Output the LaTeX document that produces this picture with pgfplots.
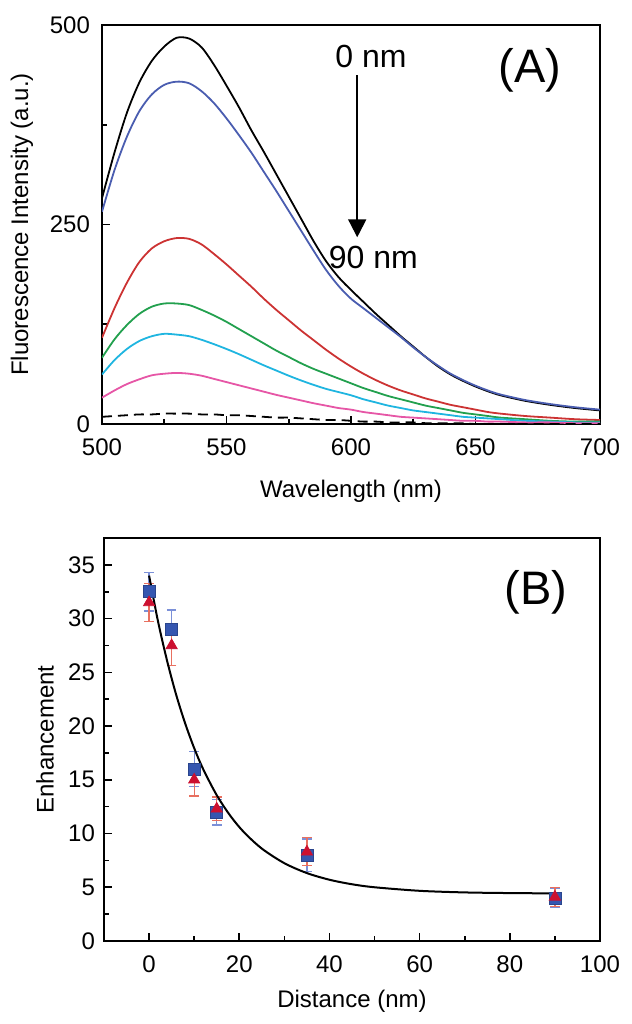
\documentclass[border=0pt]{standalone}
\usepackage{pgfplots}
\pgfplotsset{compat=1.18}
\usepackage{fontspec}
\setmainfont{Liberation Sans}
\usetikzlibrary{arrows.meta}

\definecolor{cblue}{HTML}{4A5DB0}
\definecolor{cred}{HTML}{CC3333}
\definecolor{cgreen}{HTML}{22A04E}
\definecolor{ccyan}{HTML}{1FB5E0}
\definecolor{cpink}{HTML}{E656A6}
\definecolor{sqblue}{HTML}{3556B0}
\definecolor{trired}{HTML}{CC1030}
\definecolor{errblue}{HTML}{7B90D8}
\definecolor{errred}{HTML}{E87060}

\pgfplotsset{
  panel/.style={
    scale only axis, anchor=south west,
    axis line style={line width=1pt},
    tick align=inside, tick pos=left,
    major tick length=4pt, minor tick length=2.5pt,
    every tick/.style={black, line width=0.8pt},
    ticklabel style={font=\fontsize{12}{14}\selectfont},
    xticklabel style={yshift=-4pt},
    label style={font=\fontsize{12}{14}\selectfont},
    /pgf/number format/assume math mode=true,
  }
}

% spectra (panel A)
\pgfplotstableread{
w k b r g c p d
500 283 266 108 83 62 33 9
505 340 318 145 106 80 42 10
510 390 360 177 124 94 50 11
515 428 392 203 138 104 56 12
520 455 413 220 147 110 61 12
525 473 425 229 151 113 63 13
530 484 429 233 151 112 64 13
535 483 427 232 149 110 63 13
540 472 417 225 143 105.5 60.5 12
545 450 402 213 136 100 56.5 12
550 424 383 200 128 94 52.5 11
555 397 362 186 119 87.5 48.5 11
560 368 340 172 110 80.5 44.5 10
565 341 316 157 101 73.5 40.5 9
570 313 292 143 92 67 36.5 8
575 285 267 130 84 60.5 33 8
580 257 242 117 76 54.5 29.5 7
585 229 217 105 69 49 26 6
590 204 193 93 63 44 23 5
595 184 173 82 57 40 20 5
600 168 157 72 51 36 18 4
605 153 145 63 45 31 15 3
610 138 133 55 40 27 13 3
615 124 121 48 35 23 11 2
620 110 109 42 31 20 9 2
625 97 96 37 27 17 8 2
630 84 84 32 23 15 7 1
635 72 73 28 20 13 6 1
640 62 63 24 17 11 5 1
645 54 55 21 14 9 4 1
650 47 48 18 12 8 4 0
655 41 42 15 10 7 3 0
660 36 37 13 8 6 3 0
670 29 30 10 6 4 2 0
680 24 25 8 4 3 2 0
690 20 21 6 3 2 1 0
700 17 18 5 3 2 1 0
}\spectra

% enhancement (panel B)
\pgfplotstableread{
x y e
0 32.5 1.8
5 29.0 1.8
10 16.0 1.6
15 12.0 1.2
35 8.0 1.5
90 4.0 0.9
}\squares
\pgfplotstableread{
x y e
0 31.5 1.8
5 27.5 1.9
10 15.0 1.5
15 12.3 1.1
35 8.3 1.3
90 4.1 0.9
}\triangles
\pgfplotstableread{
x y
0 34.0
2 29.7
4 26.06
6 22.92
8 20.25
10 17.95
12 15.99
15 13.57
18 11.66
21 10.14
25 8.60
30 7.24
35 6.32
40 5.70
45 5.28
50 5.00
60 4.67
70 4.52
80 4.46
90 4.43
}\fit

\begin{document}
\begin{tikzpicture}
\path[use as bounding box] (0,0) rectangle (316pt,512pt);

\begin{axis}[panel,
  at={(51pt,300pt)}, width=249pt, height=199.5pt,
  xmin=500, xmax=700, ymin=0, ymax=500,
  xtick={500,550,...,700}, ytick={0,250,500},
  minor x tick num=1, minor y tick num=1,
  yticklabel style={xshift=-2.5pt},
  xlabel={Wavelength (nm)},
  ylabel={Fluorescence Intensity (a.u.)},
  xlabel style={at={(axis description cs:0.5,-0.168)}, anchor=center},
  ylabel style={at={(axis description cs:-0.161,0.5)}, anchor=center},
]
\addplot[black, line width=0.9pt, smooth] table[x=w, y=k] {\spectra};
\addplot[cblue, line width=0.9pt, smooth] table[x=w, y=b] {\spectra};
\addplot[cred, line width=0.9pt, smooth] table[x=w, y=r] {\spectra};
\addplot[cgreen, line width=0.9pt, smooth] table[x=w, y=g] {\spectra};
\addplot[ccyan, line width=0.9pt, smooth] table[x=w, y=c] {\spectra};
\addplot[cpink, line width=0.9pt, smooth] table[x=w, y=p] {\spectra};
\addplot[black, line width=0.9pt, dash pattern=on 5pt off 3pt, smooth] table[x=w, y=d] {\spectra};
\draw[-{Triangle[length=9pt,width=9pt]}, line width=1pt] (axis cs:602.5,437) -- (axis cs:602.5,234);
\node[font=\fontsize{16}{18}\selectfont] at (axis cs:608,460) {0 nm};
\node[font=\fontsize{16}{18}\selectfont] at (axis cs:609,209) {90 nm};
\node[font=\fontsize{23.5}{26}\selectfont] at (axis cs:672,443) {(A)};
\end{axis}

\begin{axis}[panel,
  at={(52pt,41.5pt)}, width=248pt, height=201.5pt,
  xmin=-10, xmax=100, ymin=0, ymax=37.5,
  xtick={0,20,...,100}, ytick={0,5,...,35},
  minor x tick num=1, minor y tick num=1,
  yticklabel style={xshift=-1pt},
  xlabel={Distance (nm)}, ylabel={Enhancement},
  xlabel style={at={(axis description cs:0.5,-0.149)}, anchor=center},
  ylabel style={at={(axis description cs:-0.119,0.5)}, anchor=center},
]
\addplot[only marks, mark=square*, mark size=3pt,
  mark options={fill=sqblue, draw=sqblue!80!black},
  error bars/.cd, y dir=both, y explicit,
  error bar style={errblue, line width=0.6pt},
  error mark options={errblue, rotate=90, mark size=2.4pt, line width=0.6pt}]
  table[x=x, y=y, y error=e] {\squares};
\addplot[only marks, mark=triangle*, mark size=3.2pt,
  mark options={fill=trired, draw=trired},
  error bars/.cd, y dir=both, y explicit,
  error bar style={errred, line width=0.6pt},
  error mark options={errred, rotate=90, mark size=2.4pt, line width=0.6pt}]
  table[x=x, y=y, y error=e] {\triangles};
\addplot[black, line width=1pt, smooth] table[x=x, y=y] {\fit};
\node[font=\fontsize{23.5}{26}\selectfont] at (axis cs:85.8,32.4) {(B)};
\end{axis}
\end{tikzpicture}
\end{document}
